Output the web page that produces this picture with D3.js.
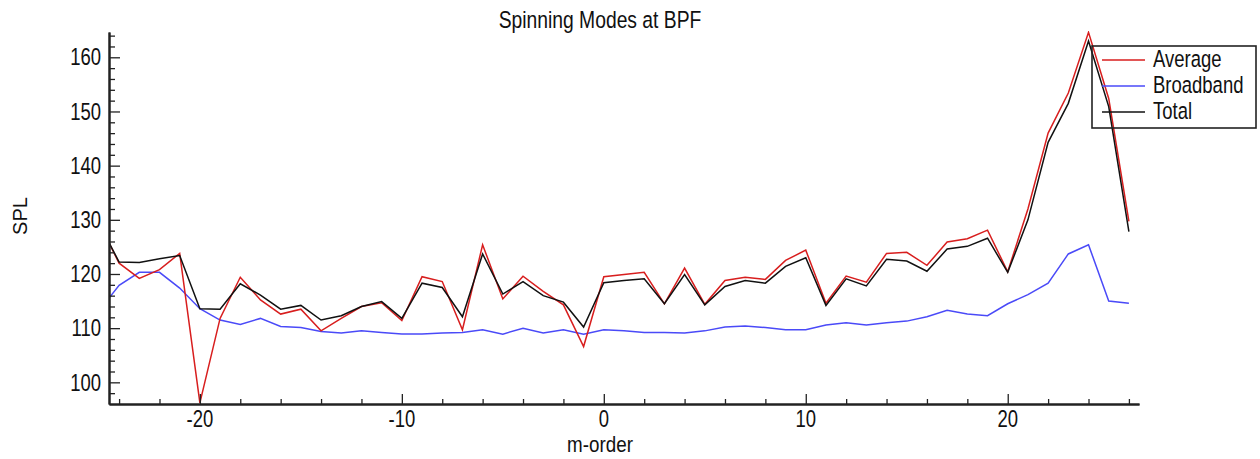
<!DOCTYPE html>
<html>
<head>
<meta charset="utf-8">
<script src="https://cdn.jsdelivr.net/npm/d3@7"></script>
<style>
  html, body { margin: 0; padding: 0; background: #fff; }
  svg { display: block; }
  text { font-family: "Liberation Sans", Arial, Helvetica, sans-serif; fill: #111; }
</style>
</head>
<body>
<svg id="chart" width="1260" height="459"></svg>
<script>
// ---- data ----
const mOrder = [-25,-24,-23,-22,-21,-20,-19,-18,-17,-16,-15,-14,-13,-12,-11,-10,-9,-8,-7,-6,-5,-4,-3,-2,-1,0,1,2,3,4,5,6,7,8,9,10,11,12,13,14,15,16,17,18,19,20,21,22,23,24,25,26];
const average = [129.5,122.0,119.2,120.8,123.8,96.2,111.8,119.4,115.2,112.6,113.5,109.5,111.8,114.0,114.7,111.4,119.5,118.6,109.7,125.4,115.4,119.6,116.8,114.3,106.6,119.5,119.9,120.3,114.5,121.1,114.4,118.8,119.4,119.0,122.5,124.4,114.6,119.6,118.5,123.8,124.0,121.6,125.9,126.5,128.1,120.4,132.0,146.0,153.4,164.6,152.4,129.7];
const broadband = [113.2,117.9,120.3,120.3,117.4,113.6,111.5,110.7,111.8,110.3,110.1,109.4,109.1,109.5,109.2,108.9,108.9,109.1,109.2,109.7,108.9,110.0,109.1,109.7,108.9,109.7,109.5,109.2,109.2,109.1,109.5,110.2,110.4,110.1,109.7,109.7,110.6,111.0,110.6,111.0,111.3,112.1,113.3,112.6,112.3,114.5,116.2,118.3,123.7,125.4,115.0,114.6];
const total = [129.4,122.2,122.1,122.8,123.4,113.6,113.5,118.2,116.1,113.5,114.2,111.5,112.3,114.0,114.9,111.8,118.3,117.5,112.1,123.7,116.3,118.6,116.0,114.8,110.2,118.4,118.8,119.1,114.5,119.9,114.3,117.7,118.8,118.3,121.4,123.0,114.2,119.1,117.8,122.7,122.4,120.5,124.6,125.1,126.6,120.3,130.0,144.3,151.5,163.0,150.9,127.8];
const seriesNames = ["Average", "Broadband", "Total"];
const seriesColors = ["#d81e1e", "#4a4af8", "#111111"];
const xMajorTicks = [-20, -10, 0, 10, 20];
const yMajorTicks = [100, 110, 120, 130, 140, 150, 160];
const titleText = "Spinning Modes at BPF";
const xLabel = "m-order";
const yLabel = "SPL";

// ---- layout ----
const svg = d3.select("#chart");
const L = 109, R = 1139, T = 32, B = 404;
const SY = 1.27; // vertical stretch of text in the reference

const x = d3.scaleLinear().domain([-24.5, 26.5]).range([L, R]);
const y = d3.scaleLinear().domain([96, 164.67]).range([B, T]);

svg.append("defs").append("clipPath").attr("id", "plotclip")
  .append("rect").attr("x", L).attr("y", T - 1).attr("width", R - L).attr("height", B - T + 1);

// lines
const line = d3.line().x((d, i) => x(mOrder[i])).y(d => y(d));
const seriesData = [broadband, average, total];
const seriesCol = [seriesColors[1], seriesColors[0], seriesColors[2]];
const gLines = svg.append("g").attr("clip-path", "url(#plotclip)");
seriesData.forEach((s, k) => {
  gLines.append("path").datum(s)
    .attr("d", line)
    .attr("fill", "none")
    .attr("stroke", seriesCol[k])
    .attr("stroke-width", 1.5)
    .attr("stroke-linejoin", "miter");
});

// axes (ticks pointing inward)
const xMinor = d3.range(-24, 27, 2).filter(v => !xMajorTicks.includes(v));
const yMinor = d3.range(98, 165, 2).filter(v => !yMajorTicks.includes(v));

function styleAxis(g) {
  g.selectAll("path.domain").attr("stroke", "#222").attr("stroke-width", 2);
  g.selectAll(".tick line").attr("stroke", "#222").attr("stroke-width", 1.3);
  g.selectAll(".tick text").remove();
}
svg.append("g").attr("transform", `translate(0,${B})`)
  .call(d3.axisBottom(x).tickValues(xMajorTicks).tickSize(-10).tickSizeOuter(0).tickFormat(""))
  .call(styleAxis);
svg.append("g").attr("transform", `translate(0,${B})`)
  .call(d3.axisBottom(x).tickValues(xMinor).tickSize(-5).tickSizeOuter(0).tickFormat(""))
  .call(styleAxis);
svg.append("g").attr("transform", `translate(${L},0)`)
  .call(d3.axisLeft(y).tickValues(yMajorTicks).tickSize(-11).tickSizeOuter(0).tickFormat(""))
  .call(styleAxis);
svg.append("g").attr("transform", `translate(${L},0)`)
  .call(d3.axisLeft(y).tickValues(yMinor).tickSize(-6).tickSizeOuter(0).tickFormat(""))
  .call(styleAxis);

// tick labels
svg.append("g").selectAll("text").data(yMajorTicks).join("text")
  .attr("transform", d => `translate(101,${y(d) + 8.2}) scale(1,${SY})`)
  .attr("text-anchor", "end")
  .style("font-size", "18.5px")
  .text(d => d);
svg.append("g").selectAll("text").data(xMajorTicks).join("text")
  .attr("transform", d => `translate(${x(d)},${427}) scale(1,${SY})`)
  .attr("text-anchor", "middle")
  .style("font-size", "18.5px")
  .text(d => d);

// titles
svg.append("text")
  .attr("transform", `translate(600,28) scale(1,${SY})`)
  .attr("text-anchor", "middle")
  .style("font-size", "19.3px")
  .text(titleText);
svg.append("text")
  .attr("transform", `translate(600,452) scale(1,1.2)`)
  .attr("text-anchor", "middle")
  .style("font-size", "18.8px")
  .text(xLabel);
svg.append("text")
  .attr("transform", `translate(27,216) rotate(-90)`)
  .attr("text-anchor", "middle")
  .style("font-size", "20px")
  .text(yLabel);

// legend
const lg = svg.append("g");
lg.append("rect").attr("x", 1092).attr("y", 46).attr("width", 164).attr("height", 82)
  .attr("fill", "none").attr("stroke", "#222").attr("stroke-width", 1.6);
seriesNames.forEach((n, i) => {
  const yy = 60 + i * 26;
  lg.append("line").attr("x1", 1102).attr("x2", 1145).attr("y1", yy).attr("y2", yy)
    .attr("stroke", seriesColors[i]).attr("stroke-width", 1.5);
  lg.append("text")
    .attr("transform", `translate(1153,${yy + 6.5}) scale(1,${SY})`)
    .style("font-size", "18.5px")
    .text(n);
});
</script>
</body>
</html>
